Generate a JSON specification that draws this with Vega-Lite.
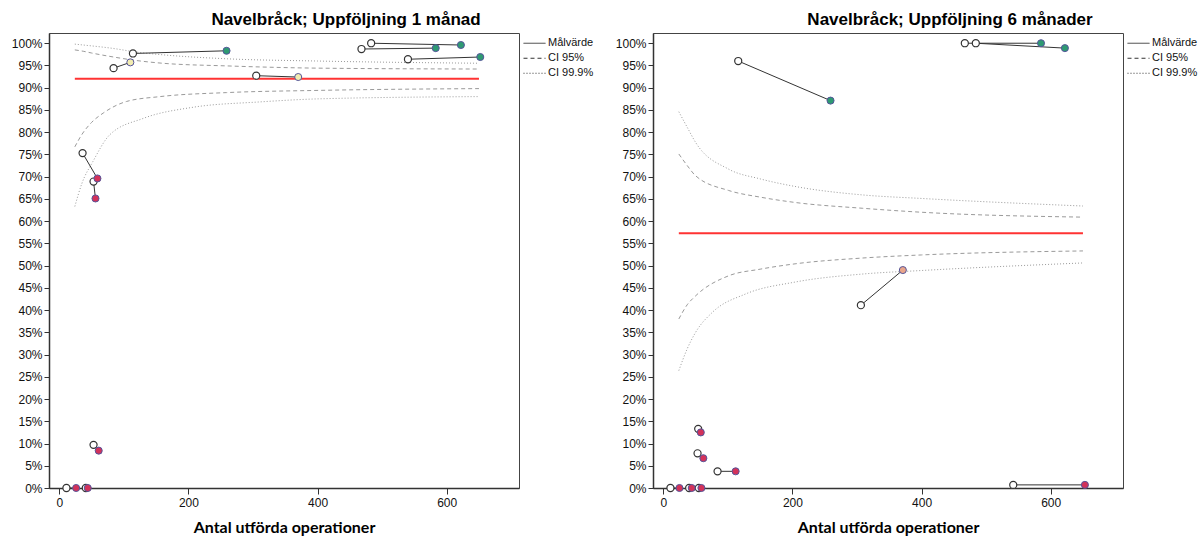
{
  "$schema": "https://vega.github.io/schema/vega-lite/v6.json",
  "background": "white",
  "padding": {"left": 10, "top": 10, "right": 0, "bottom": 0},
  "spacing": 19,
  "datasets": {
    "curves": [
      {"panel": "1", "line": "t", "kind": "Målvärde", "n": 24, "p": 92.0},
      {"panel": "1", "line": "t", "kind": "Målvärde", "n": 650, "p": 92.0},
      {"panel": "1", "line": "u99", "kind": "CI 99.9%", "n": 24, "p": 99.8},
      {"panel": "1", "line": "u99", "kind": "CI 99.9%", "n": 37, "p": 99.6},
      {"panel": "1", "line": "u99", "kind": "CI 99.9%", "n": 50, "p": 99.4},
      {"panel": "1", "line": "u99", "kind": "CI 99.9%", "n": 80, "p": 98.9},
      {"panel": "1", "line": "u99", "kind": "CI 99.9%", "n": 120, "p": 98.0},
      {"panel": "1", "line": "u99", "kind": "CI 99.9%", "n": 160, "p": 97.4},
      {"panel": "1", "line": "u99", "kind": "CI 99.9%", "n": 260, "p": 96.5},
      {"panel": "1", "line": "u99", "kind": "CI 99.9%", "n": 400, "p": 96.0},
      {"panel": "1", "line": "u99", "kind": "CI 99.9%", "n": 650, "p": 95.5},
      {"panel": "1", "line": "u95", "kind": "CI 95%", "n": 24, "p": 98.5},
      {"panel": "1", "line": "u95", "kind": "CI 95%", "n": 37, "p": 98.2},
      {"panel": "1", "line": "u95", "kind": "CI 95%", "n": 50, "p": 97.8},
      {"panel": "1", "line": "u95", "kind": "CI 95%", "n": 80, "p": 97.0},
      {"panel": "1", "line": "u95", "kind": "CI 95%", "n": 120, "p": 96.1},
      {"panel": "1", "line": "u95", "kind": "CI 95%", "n": 160, "p": 95.5},
      {"panel": "1", "line": "u95", "kind": "CI 95%", "n": 260, "p": 94.9},
      {"panel": "1", "line": "u95", "kind": "CI 95%", "n": 400, "p": 94.4},
      {"panel": "1", "line": "u95", "kind": "CI 95%", "n": 650, "p": 94.2},
      {"panel": "1", "line": "l95", "kind": "CI 95%", "n": 24, "p": 76.7},
      {"panel": "1", "line": "l95", "kind": "CI 95%", "n": 35, "p": 79.5},
      {"panel": "1", "line": "l95", "kind": "CI 95%", "n": 50, "p": 82.2},
      {"panel": "1", "line": "l95", "kind": "CI 95%", "n": 68, "p": 84.3},
      {"panel": "1", "line": "l95", "kind": "CI 95%", "n": 104, "p": 86.9},
      {"panel": "1", "line": "l95", "kind": "CI 95%", "n": 156, "p": 88.0},
      {"panel": "1", "line": "l95", "kind": "CI 95%", "n": 259, "p": 88.9},
      {"panel": "1", "line": "l95", "kind": "CI 95%", "n": 403, "p": 89.4},
      {"panel": "1", "line": "l95", "kind": "CI 95%", "n": 650, "p": 89.8},
      {"panel": "1", "line": "l99", "kind": "CI 99.9%", "n": 24, "p": 63.3},
      {"panel": "1", "line": "l99", "kind": "CI 99.9%", "n": 35, "p": 68.5},
      {"panel": "1", "line": "l99", "kind": "CI 99.9%", "n": 52, "p": 73.4},
      {"panel": "1", "line": "l99", "kind": "CI 99.9%", "n": 78, "p": 79.4},
      {"panel": "1", "line": "l99", "kind": "CI 99.9%", "n": 130, "p": 83.1},
      {"panel": "1", "line": "l99", "kind": "CI 99.9%", "n": 207, "p": 85.6},
      {"panel": "1", "line": "l99", "kind": "CI 99.9%", "n": 310, "p": 86.8},
      {"panel": "1", "line": "l99", "kind": "CI 99.9%", "n": 403, "p": 87.5},
      {"panel": "1", "line": "l99", "kind": "CI 99.9%", "n": 650, "p": 88.0},
      {"panel": "2", "line": "t", "kind": "Målvärde", "n": 24, "p": 57.3},
      {"panel": "2", "line": "t", "kind": "Målvärde", "n": 650, "p": 57.3},
      {"panel": "2", "line": "u99", "kind": "CI 99.9%", "n": 24, "p": 84.6},
      {"panel": "2", "line": "u99", "kind": "CI 99.9%", "n": 37, "p": 81.1},
      {"panel": "2", "line": "u99", "kind": "CI 99.9%", "n": 50, "p": 77.7},
      {"panel": "2", "line": "u99", "kind": "CI 99.9%", "n": 101, "p": 71.7},
      {"panel": "2", "line": "u99", "kind": "CI 99.9%", "n": 150, "p": 69.5},
      {"panel": "2", "line": "u99", "kind": "CI 99.9%", "n": 204, "p": 67.8},
      {"panel": "2", "line": "u99", "kind": "CI 99.9%", "n": 308, "p": 65.9},
      {"panel": "2", "line": "u99", "kind": "CI 99.9%", "n": 400, "p": 65.1},
      {"panel": "2", "line": "u99", "kind": "CI 99.9%", "n": 650, "p": 63.4},
      {"panel": "2", "line": "u95", "kind": "CI 95%", "n": 24, "p": 75.1},
      {"panel": "2", "line": "u95", "kind": "CI 95%", "n": 37, "p": 72.5},
      {"panel": "2", "line": "u95", "kind": "CI 95%", "n": 50, "p": 70.2},
      {"panel": "2", "line": "u95", "kind": "CI 95%", "n": 101, "p": 66.9},
      {"panel": "2", "line": "u95", "kind": "CI 95%", "n": 150, "p": 65.4},
      {"panel": "2", "line": "u95", "kind": "CI 95%", "n": 204, "p": 64.2},
      {"panel": "2", "line": "u95", "kind": "CI 95%", "n": 308, "p": 62.9},
      {"panel": "2", "line": "u95", "kind": "CI 95%", "n": 400, "p": 62.0},
      {"panel": "2", "line": "u95", "kind": "CI 95%", "n": 650, "p": 60.9},
      {"panel": "2", "line": "l95", "kind": "CI 95%", "n": 24, "p": 38.0},
      {"panel": "2", "line": "l95", "kind": "CI 95%", "n": 37, "p": 41.2},
      {"panel": "2", "line": "l95", "kind": "CI 95%", "n": 50, "p": 43.2},
      {"panel": "2", "line": "l95", "kind": "CI 95%", "n": 101, "p": 47.7},
      {"panel": "2", "line": "l95", "kind": "CI 95%", "n": 150, "p": 49.2},
      {"panel": "2", "line": "l95", "kind": "CI 95%", "n": 204, "p": 50.4},
      {"panel": "2", "line": "l95", "kind": "CI 95%", "n": 308, "p": 51.7},
      {"panel": "2", "line": "l95", "kind": "CI 95%", "n": 400, "p": 52.4},
      {"panel": "2", "line": "l95", "kind": "CI 95%", "n": 650, "p": 53.3},
      {"panel": "2", "line": "l99", "kind": "CI 99.9%", "n": 24, "p": 26.4},
      {"panel": "2", "line": "l99", "kind": "CI 99.9%", "n": 37, "p": 31.3},
      {"panel": "2", "line": "l99", "kind": "CI 99.9%", "n": 50, "p": 35.0},
      {"panel": "2", "line": "l99", "kind": "CI 99.9%", "n": 76, "p": 39.5},
      {"panel": "2", "line": "l99", "kind": "CI 99.9%", "n": 127, "p": 43.6},
      {"panel": "2", "line": "l99", "kind": "CI 99.9%", "n": 204, "p": 46.3},
      {"panel": "2", "line": "l99", "kind": "CI 99.9%", "n": 308, "p": 48.1},
      {"panel": "2", "line": "l99", "kind": "CI 99.9%", "n": 400, "p": 48.9},
      {"panel": "2", "line": "l99", "kind": "CI 99.9%", "n": 650, "p": 50.6}
    ],
    "pts": [
      {"panel": "1", "n0": 114, "p0": 97.7, "n1": 259, "p1": 98.3, "status": "high"},
      {"panel": "1", "n0": 84, "p0": 94.4, "n1": 110, "p1": 95.7, "status": "mid"},
      {"panel": "1", "n0": 305, "p0": 92.7, "n1": 370, "p1": 92.4, "status": "mid"},
      {"panel": "1", "n0": 36, "p0": 75.3, "n1": 59, "p1": 69.6, "status": "low"},
      {"panel": "1", "n0": 53, "p0": 68.9, "n1": 56, "p1": 65.1, "status": "low"},
      {"panel": "1", "n0": 483, "p0": 100.0, "n1": 622, "p1": 99.6, "status": "high"},
      {"panel": "1", "n0": 468, "p0": 98.7, "n1": 583, "p1": 98.9, "status": "high"},
      {"panel": "1", "n0": 540, "p0": 96.4, "n1": 652, "p1": 96.9, "status": "high"},
      {"panel": "1", "n0": 53, "p0": 9.7, "n1": 61, "p1": 8.4, "status": "low"},
      {"panel": "1", "n0": 11, "p0": 0, "n1": 26, "p1": 0, "status": "low"},
      {"panel": "1", "n0": 41, "p0": 0, "n1": 44, "p1": 0, "status": "low"},
      {"panel": "2", "n0": 116, "p0": 96.0, "n1": 259, "p1": 87.1, "status": "high"},
      {"panel": "2", "n0": 467, "p0": 100.0, "n1": 585, "p1": 100.0, "status": "high"},
      {"panel": "2", "n0": 484, "p0": 100.0, "n1": 622, "p1": 98.9, "status": "high"},
      {"panel": "2", "n0": 306, "p0": 41.1, "n1": 371, "p1": 49.0, "status": "warn"},
      {"panel": "2", "n0": 54, "p0": 13.3, "n1": 58, "p1": 12.5, "status": "low"},
      {"panel": "2", "n0": 53, "p0": 7.8, "n1": 62, "p1": 6.7, "status": "low"},
      {"panel": "2", "n0": 84, "p0": 3.75, "n1": 112, "p1": 3.75, "status": "low"},
      {"panel": "2", "n0": 11, "p0": 0, "n1": 25, "p1": 0, "status": "low"},
      {"panel": "2", "n0": 40, "p0": 0, "n1": 44, "p1": 0, "status": "low"},
      {"panel": "2", "n0": 55, "p0": 0, "n1": 59, "p1": 0, "status": "low"},
      {"panel": "2", "n0": 542, "p0": 0.7, "n1": 653, "p1": 0.7, "status": "low"}
    ]
  },
  "config": {
    "view": {"stroke": "#444", "strokeWidth": 1},
    "title": {"font": "Liberation Sans", "fontSize": 17, "fontWeight": "bold", "color": "#000", "anchor": "middle", "frame": "group", "dx": 62, "offset": 4},
    "axis": {"grid": false, "domainColor": "#333", "domainWidth": 1.5, "tickColor": "#333", "labelFont": "Liberation Sans", "labelFontSize": 12, "labelColor": "#111"},
    "axisX": {"tickSize": 6, "labelPadding": 3, "titleFont": "Lato", "titleFontSize": 16, "titleFontWeight": "bold", "titleColor": "#000", "titlePadding": 11},
    "axisY": {"tickSize": 5, "labelPadding": 2},
    "legend": {"orient": "none", "legendX": 474, "legendY": 4, "padding": 0, "symbolType": "stroke", "symbolStrokeColor": "#333", "symbolStrokeWidth": 1, "symbolSize": 484, "clipHeight": 12.5, "labelFont": "Liberation Sans", "labelFontSize": 11, "labelColor": "#111", "labelOffset": 2, "rowPadding": 2}
  },
  "resolve": {
    "scale": {"strokeDash": "independent", "fill": "independent"},
    "legend": {"strokeDash": "independent"}
  },
  "hconcat": [
    {
      "title": "Navelbråck; Uppföljning 1 månad",
      "width": 470,
      "height": 455,
      "layer": [
        {
          "data": {"name": "curves"},
          "transform": [{"filter": "datum.panel == '1' && datum.kind != 'Målvärde'"}],
          "mark": {"type": "line", "interpolate": "monotone", "color": "#9a9a9a", "strokeWidth": 1},
          "encoding": {
            "x": {"field": "n", "type": "quantitative", "scale": {"domain": [-16, 712], "nice": false, "zero": false}, "axis": {"values": [0, 200, 400, 600], "title": "Antal utförda operationer"}},
            "y": {"field": "p", "type": "quantitative", "scale": {"domain": [0, 102.3], "nice": false}, "axis": {"values": [0, 5, 10, 15, 20, 25, 30, 35, 40, 45, 50, 55, 60, 65, 70, 75, 80, 85, 90, 95, 100], "labelExpr": "datum.value + '%'", "title": null}},
            "detail": {"field": "line"},
            "strokeDash": {"field": "kind", "type": "nominal", "scale": {"domain": ["Målvärde", "CI 95%", "CI 99.9%"], "range": [[1, 0], [4, 3], [1, 2]]}, "legend": {"title": null}}
          }
        },
        {
          "data": {"name": "curves"},
          "transform": [{"filter": "datum.panel == '1' && datum.kind == 'Målvärde'"}],
          "mark": {"type": "line", "color": "#ff3333", "strokeWidth": 2},
          "encoding": {
            "x": {"field": "n", "type": "quantitative", "axis": {"values": [0, 200, 400, 600], "title": "Antal utförda operationer"}},
            "y": {"field": "p", "type": "quantitative", "axis": {"values": [0, 5, 10, 15, 20, 25, 30, 35, 40, 45, 50, 55, 60, 65, 70, 75, 80, 85, 90, 95, 100], "labelExpr": "datum.value + '%'", "title": null}},
            "strokeDash": {"field": "kind", "type": "nominal", "legend": {"title": null}}
          }
        },
        {
          "data": {"name": "pts"},
          "transform": [{"filter": "datum.panel == '1'"}],
          "mark": {"type": "rule", "color": "#333", "strokeWidth": 1},
          "encoding": {
            "x": {"field": "n0", "type": "quantitative", "axis": {"values": [0, 200, 400, 600], "title": "Antal utförda operationer"}},
            "y": {"field": "p0", "type": "quantitative", "axis": {"values": [0, 5, 10, 15, 20, 25, 30, 35, 40, 45, 50, 55, 60, 65, 70, 75, 80, 85, 90, 95, 100], "labelExpr": "datum.value + '%'", "title": null}},
            "x2": {"field": "n1"},
            "y2": {"field": "p1"}
          }
        },
        {
          "data": {"name": "pts"},
          "transform": [{"filter": "datum.panel == '1'"}],
          "mark": {"type": "circle", "size": 50, "fill": "white", "stroke": "#333", "strokeWidth": 1.2, "opacity": 1},
          "encoding": {
            "x": {"field": "n0", "type": "quantitative", "axis": {"values": [0, 200, 400, 600], "title": "Antal utförda operationer"}},
            "y": {"field": "p0", "type": "quantitative", "axis": {"values": [0, 5, 10, 15, 20, 25, 30, 35, 40, 45, 50, 55, 60, 65, 70, 75, 80, 85, 90, 95, 100], "labelExpr": "datum.value + '%'", "title": null}}
          }
        },
        {
          "data": {"name": "pts"},
          "transform": [{"filter": "datum.panel == '1'"}],
          "mark": {"type": "circle", "size": 50, "stroke": "#55559a", "strokeWidth": 1, "opacity": 1},
          "encoding": {
            "x": {"field": "n1", "type": "quantitative", "axis": {"values": [0, 200, 400, 600], "title": "Antal utförda operationer"}},
            "y": {"field": "p1", "type": "quantitative", "axis": {"values": [0, 5, 10, 15, 20, 25, 30, 35, 40, 45, 50, 55, 60, 65, 70, 75, 80, 85, 90, 95, 100], "labelExpr": "datum.value + '%'", "title": null}},
            "fill": {"field": "status", "type": "nominal", "scale": {"domain": ["high", "mid", "warn", "low"], "range": ["#2e9a72", "#f2ecb0", "#eaa58a", "#d3325a"]}, "legend": null}
          }
        }
      ]
    },
    {
      "title": "Navelbråck; Uppföljning 6 månader",
      "width": 470,
      "height": 455,
      "layer": [
        {
          "data": {"name": "curves"},
          "transform": [{"filter": "datum.panel == '2' && datum.kind != 'Målvärde'"}],
          "mark": {"type": "line", "interpolate": "monotone", "color": "#9a9a9a", "strokeWidth": 1},
          "encoding": {
            "x": {"field": "n", "type": "quantitative", "scale": {"domain": [-16, 712], "nice": false, "zero": false}, "axis": {"values": [0, 200, 400, 600], "title": "Antal utförda operationer"}},
            "y": {"field": "p", "type": "quantitative", "scale": {"domain": [0, 102.3], "nice": false}, "axis": {"values": [0, 5, 10, 15, 20, 25, 30, 35, 40, 45, 50, 55, 60, 65, 70, 75, 80, 85, 90, 95, 100], "labelExpr": "datum.value + '%'", "title": null}},
            "detail": {"field": "line"},
            "strokeDash": {"field": "kind", "type": "nominal", "scale": {"domain": ["Målvärde", "CI 95%", "CI 99.9%"], "range": [[1, 0], [4, 3], [1, 2]]}, "legend": {"title": null}}
          }
        },
        {
          "data": {"name": "curves"},
          "transform": [{"filter": "datum.panel == '2' && datum.kind == 'Målvärde'"}],
          "mark": {"type": "line", "color": "#ff3333", "strokeWidth": 2},
          "encoding": {
            "x": {"field": "n", "type": "quantitative", "axis": {"values": [0, 200, 400, 600], "title": "Antal utförda operationer"}},
            "y": {"field": "p", "type": "quantitative", "axis": {"values": [0, 5, 10, 15, 20, 25, 30, 35, 40, 45, 50, 55, 60, 65, 70, 75, 80, 85, 90, 95, 100], "labelExpr": "datum.value + '%'", "title": null}},
            "strokeDash": {"field": "kind", "type": "nominal", "legend": {"title": null}}
          }
        },
        {
          "data": {"name": "pts"},
          "transform": [{"filter": "datum.panel == '2'"}],
          "mark": {"type": "rule", "color": "#333", "strokeWidth": 1},
          "encoding": {
            "x": {"field": "n0", "type": "quantitative", "axis": {"values": [0, 200, 400, 600], "title": "Antal utförda operationer"}},
            "y": {"field": "p0", "type": "quantitative", "axis": {"values": [0, 5, 10, 15, 20, 25, 30, 35, 40, 45, 50, 55, 60, 65, 70, 75, 80, 85, 90, 95, 100], "labelExpr": "datum.value + '%'", "title": null}},
            "x2": {"field": "n1"},
            "y2": {"field": "p1"}
          }
        },
        {
          "data": {"name": "pts"},
          "transform": [{"filter": "datum.panel == '2'"}],
          "mark": {"type": "circle", "size": 50, "fill": "white", "stroke": "#333", "strokeWidth": 1.2, "opacity": 1},
          "encoding": {
            "x": {"field": "n0", "type": "quantitative", "axis": {"values": [0, 200, 400, 600], "title": "Antal utförda operationer"}},
            "y": {"field": "p0", "type": "quantitative", "axis": {"values": [0, 5, 10, 15, 20, 25, 30, 35, 40, 45, 50, 55, 60, 65, 70, 75, 80, 85, 90, 95, 100], "labelExpr": "datum.value + '%'", "title": null}}
          }
        },
        {
          "data": {"name": "pts"},
          "transform": [{"filter": "datum.panel == '2'"}],
          "mark": {"type": "circle", "size": 50, "stroke": "#55559a", "strokeWidth": 1, "opacity": 1},
          "encoding": {
            "x": {"field": "n1", "type": "quantitative", "axis": {"values": [0, 200, 400, 600], "title": "Antal utförda operationer"}},
            "y": {"field": "p1", "type": "quantitative", "axis": {"values": [0, 5, 10, 15, 20, 25, 30, 35, 40, 45, 50, 55, 60, 65, 70, 75, 80, 85, 90, 95, 100], "labelExpr": "datum.value + '%'", "title": null}},
            "fill": {"field": "status", "type": "nominal", "scale": {"domain": ["high", "mid", "warn", "low"], "range": ["#2e9a72", "#f2ecb0", "#eaa58a", "#d3325a"]}, "legend": null}
          }
        }
      ]
    }
  ]
}
